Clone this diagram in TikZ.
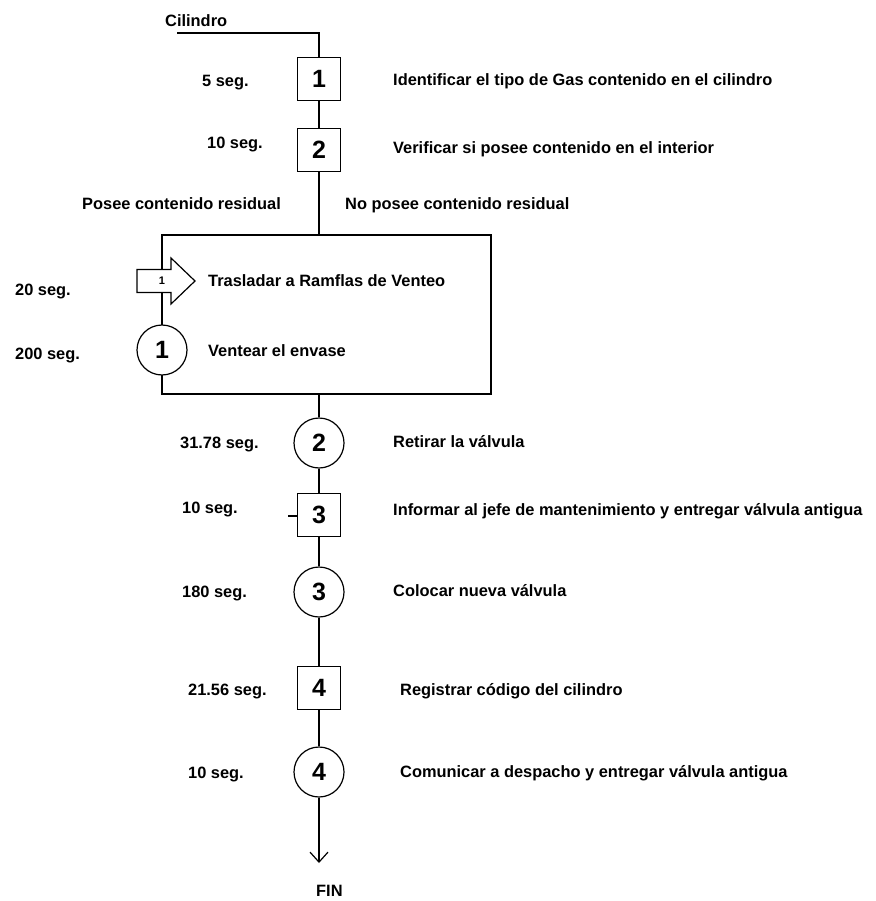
\documentclass[tikz,border=0pt]{standalone}
\usepackage{fontspec}
\setmainfont{Liberation Sans}
\usetikzlibrary{arrows.meta}
\begin{document}
\begin{tikzpicture}[x=1pt,y=-1pt,
  flow/.style={line width=1.2pt,black},
  opbox/.style={draw,line width=1.2pt,fill=white,minimum width=43pt,minimum height=43pt,
    inner sep=0pt,font=\fontsize{25}{25}\selectfont\bfseries},
  opcirc/.style={draw,circle,line width=1.2pt,fill=white,minimum size=50pt,
    inner sep=0pt,font=\fontsize{25}{25}\selectfont\bfseries},
  lbl/.style={anchor=west,inner sep=0pt,text height=11.8pt,text depth=0pt,
    font=\fontsize{16.4}{18}\selectfont\bfseries}]
\useasboundingbox (0,0) rectangle (875,901);

% operations on the main line
\node[opbox]  (b1) at (319,79)  {1};
\node[opbox]  (b2) at (319,150) {2};
\node[draw,line width=1.2pt,minimum width=329pt,minimum height=159pt,inner sep=0pt]
  (grp) at (326.5,314.5) {};
\node[opcirc] (c2) at (319,443) {2};
\node[opbox]  (b3) at (319,515) {3};
\node[opcirc] (c3) at (319,592) {3};
\node[opbox]  (b4) at (319,688) {4};
\node[opcirc] (c4) at (319,772) {4};

% venting branch on the left edge of the group
\coordinate (tr) at (162,281);
\draw[line width=1.2pt,fill=white]
  (137,269.5) -- (171,269.5) -- (171,258) -- (195,281) -- (171,304) -- (171,292.5)
  -- (137,292.5) -- cycle;
\node[inner sep=0pt,font=\fontsize{11}{11}\selectfont\bfseries] (tn) at (tr) {1};
\node[opcirc] (c1) at (162,350) {1};

% connectors
\coordinate (cin) at (177,33);
\coordinate (fin) at (319,863);
\coordinate (stub) at (288,516);
\draw[flow] (cin) -- (cin -| b1) -- (b1.north);
\draw[flow] (b1.south) -- (b2.north);
\draw[flow] (b2.south) -- (b2.south |- grp.north);
\draw[flow] (b2.south |- grp.south) -- (c2.north);
\draw[flow] (c2.south) -- (b3.north);
\draw[flow] (stub) -- (stub -| b3.west);
\draw[flow] (b3.south) -- (c3.north);
\draw[flow] (c3.south) -- (b4.north);
\draw[flow] (b4.south) -- (c4.north);
\draw[flow,-{Straight Barb[length=10pt,width=18pt,line width=1.2pt]}] (c4.south) -- (fin);

% texts
\node[lbl] (tcil) at (165,21) {Cilindro};
\node[lbl] (tfin) at (316,891) {FIN};
\node[lbl] (tpos) at (82,204) {Posee contenido residual};
\node[lbl] (tnop) at (345,204) {No posee contenido residual};

\node[lbl] (s1) at (202,81)  {5 seg.};
\node[lbl] (s2) at (207,143) {10 seg.};
\node[lbl] (s3) at (15,290)  {20 seg.};
\node[lbl] (s4) at (15,354)  {200 seg.};
\node[lbl] (s5) at (180,443) {31.78 seg.};
\node[lbl] (s6) at (182,508) {10 seg.};
\node[lbl] (s7) at (182,592) {180 seg.};
\node[lbl] (s8) at (188,690) {21.56 seg.};
\node[lbl] (s9) at (188,773) {10 seg.};

\node[lbl] (d1) at (393,80)  {Identificar el tipo de Gas contenido en el cilindro};
\node[lbl] (d2) at (393,148) {Verificar si posee contenido en el interior};
\node[lbl] (d3) at (208,281) {Trasladar a Ramflas de Venteo};
\node[lbl] (d4) at (208,351) {Ventear el envase};
\node[lbl] (d5) at (393,442) {Retirar la válvula};
\node[lbl] (d6) at (393,510) {Informar al jefe de mantenimiento y entregar válvula antigua};
\node[lbl] (d7) at (393,591) {Colocar nueva válvula};
\node[lbl] (d8) at (400,690) {Registrar código del cilindro};
\node[lbl] (d9) at (400,772) {Comunicar a despacho y entregar válvula antigua};
\end{tikzpicture}
\end{document}
